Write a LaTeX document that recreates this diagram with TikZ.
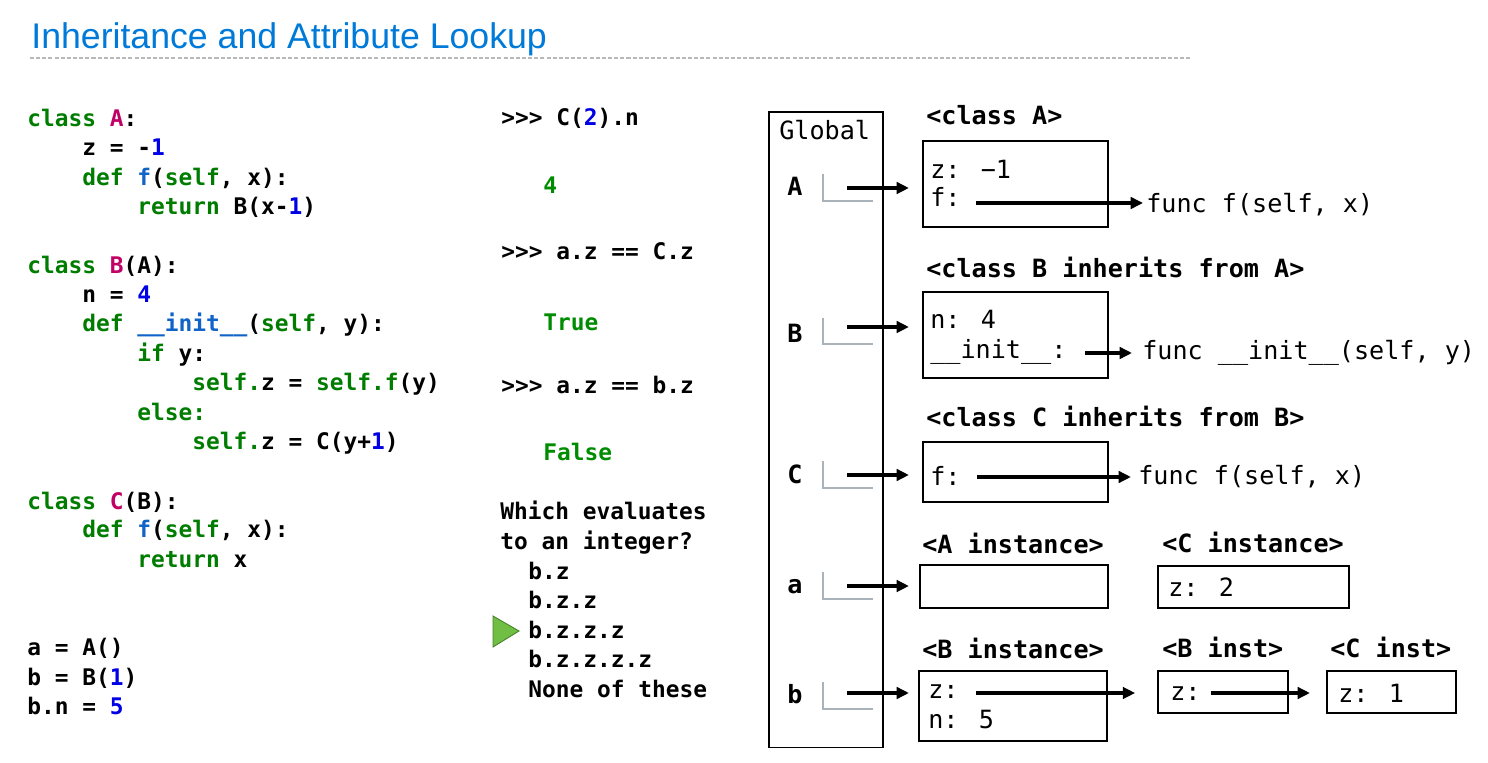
\documentclass[tikz,border=0pt]{standalone}
\usepackage{fontspec}
\setmainfont{Liberation Sans}
\newfontfamily\monofont{DejaVu Sans Mono}
\usetikzlibrary{arrows.meta,positioning}

\definecolor{titleblue}{RGB}{0,122,217}
\definecolor{kwgreen}{RGB}{0,125,0}
\definecolor{clsmagenta}{RGB}{192,0,100}
\definecolor{fnblue}{RGB}{16,100,200}
\definecolor{numblue}{RGB}{0,0,230}
\definecolor{resgreen}{RGB}{0,140,0}
\definecolor{cornergray}{RGB}{170,178,186}
\definecolor{markgreen}{RGB}{112,190,68}
\definecolor{markedge}{RGB}{70,130,40}

\newcommand{\kw}[1]{\textcolor{kwgreen}{#1}}
\newcommand{\cls}[1]{\textcolor{clsmagenta}{#1}}
\newcommand{\fn}[1]{\textcolor{fnblue}{#1}}
\newcommand{\nb}[1]{\textcolor{numblue}{#1}}

\tikzset{
  code/.style={anchor=base west, inner sep=0pt, font=\monofont\bfseries\fontsize{13pt}{16pt}\selectfont},
  result/.style={code, text=resgreen},
  mem/.style={anchor=base west, inner sep=0pt, font=\monofont\fontsize{14.3pt}{17pt}\selectfont},
  head/.style={mem, font=\monofont\bfseries\fontsize{14.3pt}{17pt}\selectfont},
  varname/.style={head, anchor=base},
  objbox/.style={draw, line width=0.6pt, inner sep=0pt, outer sep=0pt, anchor=north west},
  ptr/.style={line width=2pt, -{Triangle[length=7pt,width=6.5pt]}},
  corner/.style={cornergray, line width=0.6pt},
}

\begin{document}
\begin{tikzpicture}[x=0.02cm, y=-0.02cm]
\useasboundingbox (0,0) rectangle (1488,763);

% title
\node[anchor=base west, inner sep=0pt, text=titleblue, font=\fontsize{20.3pt}{24pt}\selectfont] (title) at (31,49) {Inheritance and Attribute Lookup};
\draw[gray!55, line width=0.6pt, dash pattern=on 2.3pt off 1.2pt] (30,58) -- (1190,58);

% source code
\node[code] (l0) at (27,127) {\kw{class} \cls{A}:};
\node[code] (l1) at (82,156) {z = -\nb{1}};
\node[code] (l2) at (82,186) {\kw{def} \fn{f}(\kw{self}, x):};
\node[code] (l3) at (137,215) {\kw{return} B(x-\nb{1})};
\node[code] (l5) at (27,274) {\kw{class} \cls{B}(A):};
\node[code] (l6) at (82,303) {n = \nb{4}};
\node[code] (l7) at (82,332) {\kw{def} \fn{\_\_init\_\_}(\kw{self}, y):};
\node[code] (l8) at (137,362) {\kw{if} y:};
\node[code] (l9) at (192,391) {\kw{self.}z = \kw{self.f}(y)};
\node[code] (l10) at (137,421) {\kw{else:}};
\node[code] (l11) at (192,450) {\kw{self.}z = C(y+\nb{1})};
\node[code] (l13) at (27,509) {\kw{class} \cls{C}(B):};
\node[code] (l14) at (82,538) {\kw{def} \fn{f}(\kw{self}, x):};
\node[code] (l15) at (137,567) {\kw{return} x};
\node[code] (l18) at (27,655) {a = A()};
\node[code] (l19) at (27,685) {b = B(\nb{1})};
\node[code] (l20) at (27,714) {b.n = \nb{5}};

% interactive session
\node[code] (q1) at (501,126) {>>> C(\nb{2}).n};
\node[result] (r1) at (543,194) {4};
\node[code] (q2) at (501,260) {>>> a.z == C.z};
\node[result] (r2) at (543,331) {True};
\node[code] (q3) at (501,394) {>>> a.z == b.z};
\node[result] (r3) at (543,460) {False};
\node[code] (q4) at (500,520) {Which evaluates};
\node[code] (q5) at (500,549) {to an integer?};
\node[code] (c1) at (528,579) {b.z};
\node[code] (c2) at (528,608) {b.z.z};
\node[code] (c3) at (528,638) {b.z.z.z};
\node[code] (c4) at (528,667) {b.z.z.z.z};
\node[code] (c5) at (528,697) {None of these};
\filldraw[fill=markgreen, draw=markedge, line width=0.5pt] (493,616) -- (519,631) -- (493,647) -- cycle;

% global frame
\node[objbox, minimum width=2.28cm, minimum height=12.72cm] (global) at (769,112) {};
\node[mem] (gtitle) at (779,140) {Global};
\node[varname] (vA) at (795,196) {A};
\node[varname] (vB) at (795,343) {B};
\node[varname] (vC) at (795,483) {C};
\node[varname] (va) at (795,593) {a};
\node[varname] (vb) at (795,703) {b};
\draw[corner] (823,174) |- (873,201);
\draw[corner] (823,318) |- (873,344);
\draw[corner] (823,461) |- (873,488);
\draw[corner] (823,572) |- (873,599);
\draw[corner] (823,682) |- (873,709);
\coordinate (ptrA) at (847,188);
\coordinate (ptrB) at (847,327);
\coordinate (ptrC) at (847,475);
\coordinate (ptra) at (847,586);
\coordinate (ptrb) at (847,693);

% class objects
\node[head] (hA) at (926,125) {<class A>};
\node[objbox, minimum width=3.70cm, minimum height=1.72cm] (clsA) at (923,141) {};
\node[mem] at (930,179) {z: −1};
\node[mem] at (930,207) {f:};
\node[mem] (funcA) at (1146,213) {func f(self, x)};
\coordinate (fA) at (976,203);

\node[head] (hB) at (926,278) {<class B inherits from A>};
\node[objbox, minimum width=3.70cm, minimum height=1.72cm] (clsB) at (923,292) {};
\node[mem] at (930,329) {n: 4};
\node[mem] at (930,359) {\_\_init\_\_:};
\node[mem] (funcB) at (1142,360) {func \_\_init\_\_(self, y)};
\coordinate (fB) at (1085,353);

\node[head] (hC) at (926,427) {<class C inherits from B>};
\node[objbox, minimum width=3.70cm, minimum height=1.20cm] (clsC) at (923,442) {};
\node[mem] at (930,485) {f:};
\node[mem] (funcC) at (1138,484) {func f(self, x)};
\coordinate (fC) at (977,477);

% instances
\node[head] (hiA) at (922,553) {<A instance>};
\node[objbox, minimum width=3.76cm, minimum height=0.86cm] (instA) at (920,565) {};
\node[head] (hiC) at (1162,552) {<C instance>};
\node[objbox, minimum width=3.82cm, minimum height=0.84cm] (instC) at (1158,566) {};
\node[mem] at (1168,596) {z: 2};

\node[head] (hiB) at (922,658) {<B instance>};
\node[objbox, minimum width=3.76cm, minimum height=1.40cm] (instB) at (919,671) {};
\node[mem] at (928,698) {z:};
\node[mem] at (928,728) {n: 5};
\coordinate (zB) at (976,693);
\node[head] (hiB2) at (1162,657) {<B inst>};
\node[objbox, minimum width=2.60cm, minimum height=0.84cm] (instB2) at (1158,671) {};
\node[mem] at (1170,700) {z:};
\coordinate (zB2) at (1211,693);
\node[head] (hiC2) at (1330,657) {<C inst>};
\node[objbox, minimum width=2.58cm, minimum height=0.84cm] (instC2) at (1327,671) {};
\node[mem] at (1338,702) {z: 1};

% pointers
\draw[ptr, shorten >=8pt] (ptrA) -- (ptrA -| clsA.west);
\draw[ptr, shorten >=8pt] (ptrB) -- (ptrB -| clsB.west);
\draw[ptr, shorten >=8pt] (ptrC) -- (ptrC -| clsC.west);
\draw[ptr, shorten >=6.3pt] (ptra) -- (ptra -| instA.west);
\draw[ptr, shorten >=5.7pt] (ptrb) -- (ptrb -| instB.west);
\draw[ptr, shorten >=1.7pt] (fA) -- (fA -| funcA.west);
\draw[ptr, shorten >=5.7pt] (fB) -- (fB -| funcB.west);
\draw[ptr, shorten >=4pt] (fC) -- (fC -| funcC.west);
\draw[ptr, shorten >=13pt] (zB) -- (zB -| instB2.west);
\draw[ptr, shorten >=9.7pt] (zB2) -- (zB2 -| instC2.west);
\end{tikzpicture}
\end{document}
